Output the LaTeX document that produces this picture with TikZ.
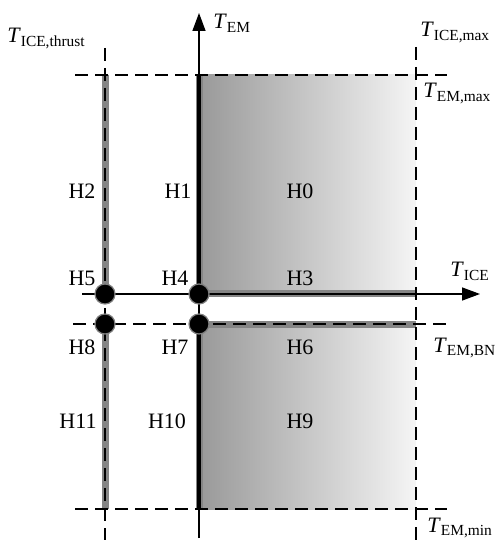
\documentclass[tikz,border=0pt]{standalone}
\usepackage{fontspec}
\setmainfont{Liberation Serif}
\usetikzlibrary{arrows.meta}
\newcommand{\tvar}[1]{\textit{T}\textsubscript{#1}}

\begin{document}
\begin{tikzpicture}[x=0.5pt,y=-0.5pt,
    lbl/.style={font=\fontsize{11}{13}\selectfont,inner sep=0pt},
    dashline/.style={line width=0.75pt,dash pattern=on 6.5pt off 3.5pt},
    band/.style={line width=3.5pt,draw=black!48},
    bar/.style={line width=2pt},
    axis/.style={line width=0.7pt,-{Triangle[length=9pt,width=6.5pt]}},
    dot/.style={circle,fill=black,draw=black!50,line width=0.6pt,minimum size=10pt,inner sep=0pt}]
  \useasboundingbox (0,0) rectangle (498,544);
  % limits
  \coordinate (thrT) at (105,48);   \coordinate (thrB) at (105,540);
  \coordinate (maxT) at (416,47);   \coordinate (maxB) at (416,540);
  \coordinate (emmaxL) at (75,75);  \coordinate (emmaxR) at (447,75);
  \coordinate (embnL) at (73,324);  \coordinate (embnR) at (447,324);
  \coordinate (emminL) at (75,509); \coordinate (emminR) at (447,509);
  \coordinate (iceL) at (82,294);   \coordinate (iceR) at (480,294);
  \coordinate (emB) at (199,538);   \coordinate (emT) at (199,13);
  % corners
  \coordinate (a) at (105,75);  \coordinate (b) at (199,75);
  \coordinate (c) at (105,509); \coordinate (d) at (199,509);
  \coordinate (e) at (416,294); \coordinate (f) at (416,324);
  \coordinate (p5) at (105,294); \coordinate (p4) at (199,294);
  \coordinate (p8) at (105,324); \coordinate (p7) at (199,324);
  % shaded regions
  \fill[left color=black!40,right color=black!4] (b) rectangle (e);
  \fill[left color=black!40,right color=black!4] (p7) rectangle (maxB |- d);
  % boundaries
  \draw[band] (a) -- (p5) (p8) -- (c);
  \draw[band] (b) -- (p4) (p7) -- (d);
  \draw[band,yshift=-0.6pt] (p4) -- (e);
  \draw[band] (p7) -- (f);
  \draw[dashline] (emmaxL) -- (emmaxR);
  \draw[dashline] (embnL) -- (embnR);
  \draw[dashline] (emminL) -- (emminR);
  \draw[dashline] (thrT) -- (thrB);
  \draw[dashline] (maxT) -- (maxB);
  \draw[axis] (iceL) -- (iceR);
  \draw[axis] (emB) -- (emT);
  \draw[bar] (b) -- (p4) (p7) -- (d);
  \draw[line width=1.4pt] (p4) -- (e);
  \node[dot] (n5) at (p5) {};
  \node[dot] (n4) at (p4) {};
  \node[dot] (n8) at (p8) {};
  \node[dot] (n7) at (p7) {};
  % regions
  \node[lbl] (h0) at (300,191) {H0};
  \node[lbl] (h1) at (178,191) {H1};
  \node[lbl] (h2) at (82,191) {H2};
  \node[lbl] (h3) at (300,278) {H3};
  \node[lbl] (h4) at (175,278) {H4};
  \node[lbl] (h5) at (82,278) {H5};
  \node[lbl] (h6) at (300,347) {H6};
  \node[lbl] (h7) at (175,347) {H7};
  \node[lbl] (h8) at (82,347) {H8};
  \node[lbl] (h9) at (300,421) {H9};
  \node[lbl] (h10) at (167,421) {H10};
  \node[lbl] (h11) at (78,421) {H11};
  % axis and limit labels
  \node[lbl,anchor=base west] (tthrust) at (7,43) {\tvar{ICE,thrust}};
  \node[lbl,anchor=base west] (tem) at (213,29) {\tvar{EM}};
  \node[lbl,anchor=base west] (ticemax) at (420,37) {\tvar{ICE,max}};
  \node[lbl,anchor=base west] (temmax) at (423,98) {\tvar{EM,max}};
  \node[lbl,anchor=base west] (tice) at (450,277) {\tvar{ICE}};
  \node[lbl,anchor=base west] (tembn) at (433,352) {\tvar{EM,BN}};
  \node[lbl,anchor=base west] (temmin) at (427,532) {\tvar{EM,min}};
\end{tikzpicture}
\end{document}
